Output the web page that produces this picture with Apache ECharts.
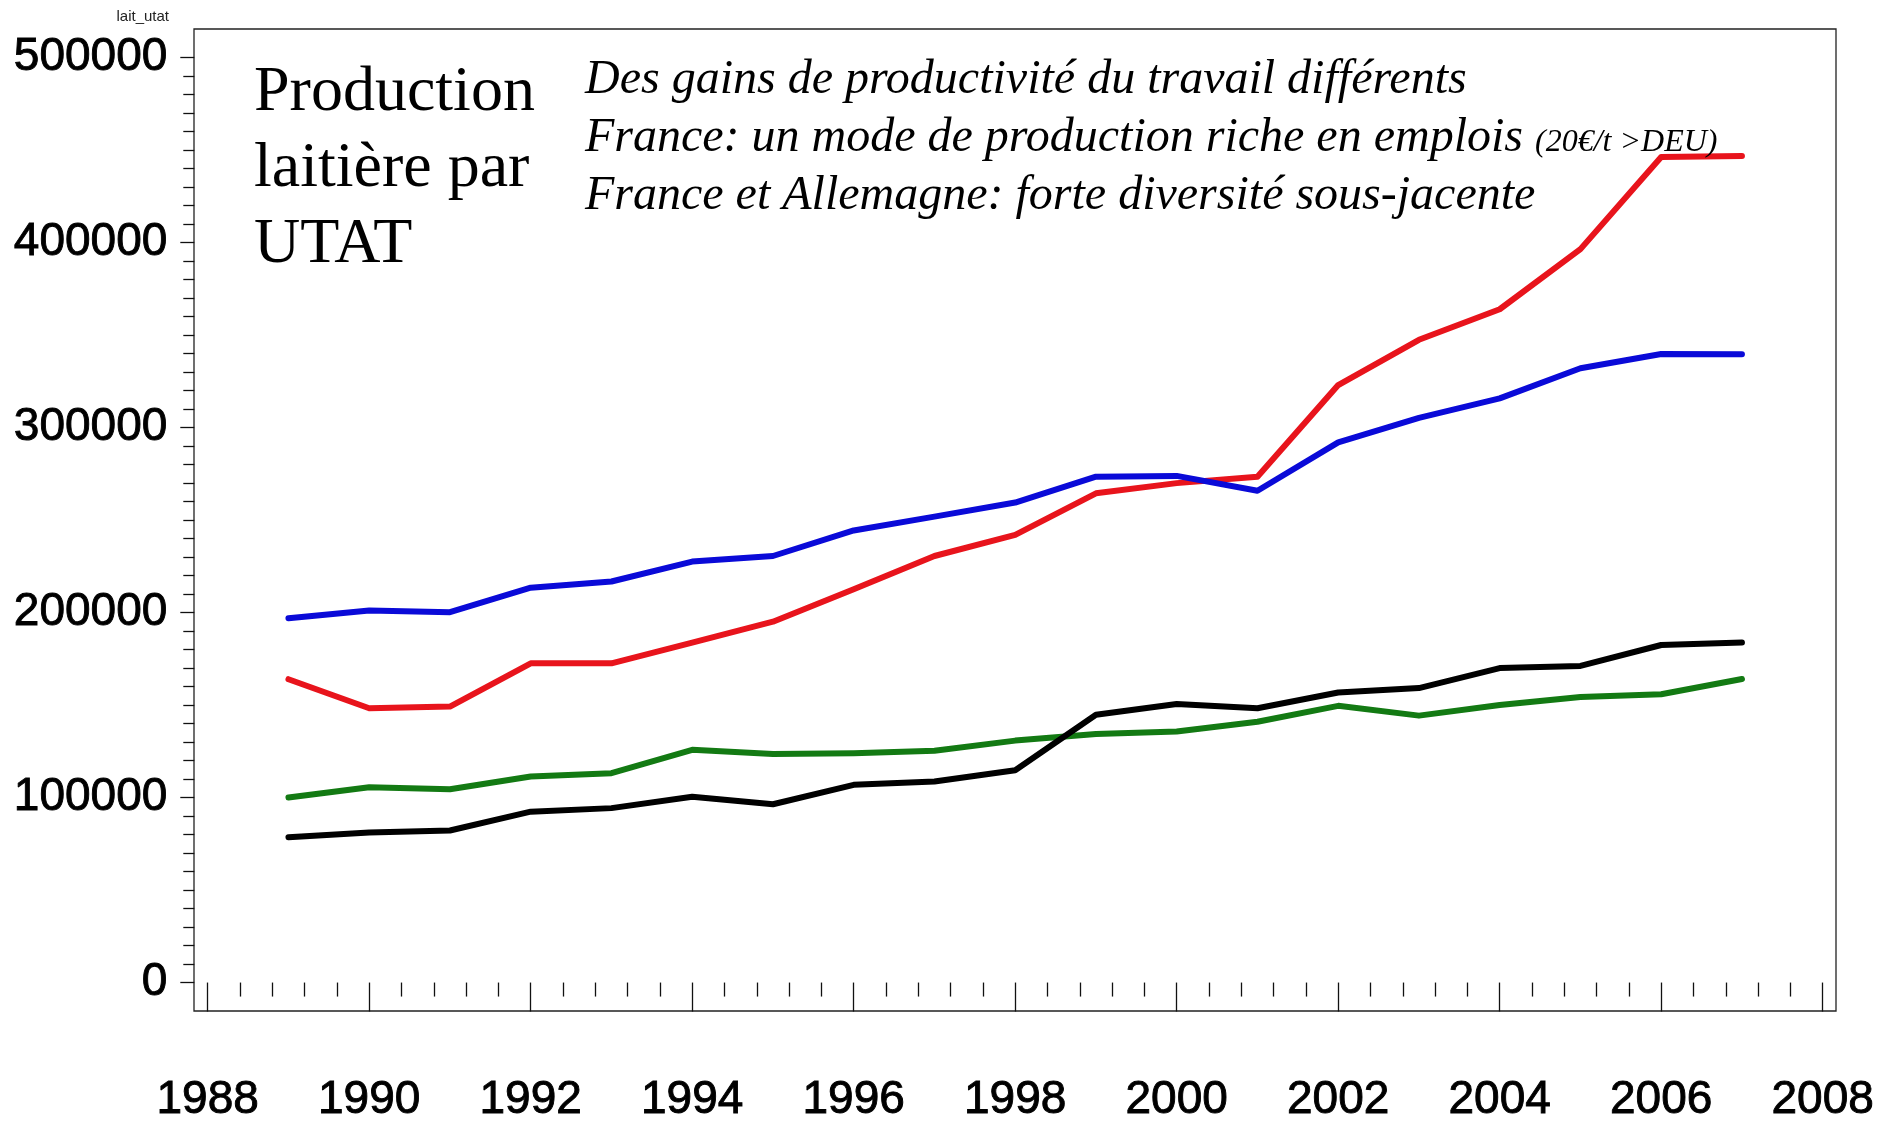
<!DOCTYPE html>
<html>
<head>
<meta charset="utf-8">
<script src="https://cdn.jsdelivr.net/npm/echarts@6/dist/echarts.min.js"></script>
<style>
html,body{margin:0;padding:0;background:#fff;}
#chart{width:1899px;height:1124px;}
</style>
</head>
<body>
<div id="chart"></div>
<script>
// ---- data ----
const years = [1989,1990,1991,1992,1993,1994,1995,1996,1997,1998,1999,2000,2001,2002,2003,2004,2005,2006,2007];
const serieRouge = [164000,148300,149200,172600,172600,183800,195100,212600,230600,242000,264500,270000,273500,323000,347500,364000,396500,446300,446900];
const serieBleue = [197000,201100,200200,213500,216800,227600,230600,244400,251900,259500,273500,273900,265900,292000,305300,315800,332100,339800,339700];
const serieVerte = [100000,105600,104500,111400,113200,125800,123600,124000,125300,130800,134400,135700,141000,149600,144300,150000,154400,155900,164100];
const serieNoire = [78600,81100,82200,92400,94300,100500,96400,106900,108700,114800,144800,150600,148300,156800,159200,170000,171200,182500,183800];
const xTicks = {min:1988, max:2008, interval:2};
const yTicks = {min:0, max:500000, interval:100000};
const axisName = 'lait_utat';
const titleLines = ['Production','laitière par','UTAT'];
const noteLines = ['Des gains de productivité du travail différents',
                   'France: un mode de production riche en emplois ',
                   'France et Allemagne: forte diversité sous-jacente'];
const noteSmall = '(20€/t >DEU)';

const pairs = arr => years.map((y,i)=>[y,arr[i]]);

const chart = echarts.init(document.getElementById('chart'), null, {renderer:'canvas'});
const lineSeries = (name, arr, color) => ({
  name, type:'line', xAxisIndex:1, yAxisIndex:1, data:pairs(arr),
  showSymbol:false, symbol:'none', smooth:false,
  lineStyle:{color, width:6, cap:'round', join:'round'}, z:3
});
const tickFont = '"Liberation Sans", Arial, sans-serif';

const option = {
  animation:false,
  backgroundColor:'#fff',
  grid:[
    {left:194, top:29, right:63, bottom:113, show:true, borderColor:'#222', borderWidth:1.3, backgroundColor:'transparent'},
    {left:207.7, top:57.7, right:76.3, bottom:141.3}
  ],
  xAxis:[
    {gridIndex:0, type:'value', show:false, min:0, max:1},
    {gridIndex:1, type:'value', min:xTicks.min, max:xTicks.max, interval:xTicks.interval,
     position:'bottom', offset:28,
     axisLine:{show:false},
     axisTick:{show:true, length:29, lineStyle:{color:'#111', width:1.3}},
     minorTick:{show:true, splitNumber:5, length:14, lineStyle:{color:'#111', width:1.3}},
     splitLine:{show:false}, minorSplitLine:{show:false},
     axisLabel:{show:true, margin:67, color:'#000', fontSize:46, fontFamily:tickFont,
                textBorderColor:'#000', textBorderWidth:0.9, formatter:v=>String(v)}
    }
  ],
  yAxis:[
    {gridIndex:0, type:'value', show:false, min:0, max:1},
    {gridIndex:1, type:'value', min:yTicks.min, max:yTicks.max, interval:yTicks.interval,
     position:'left', offset:13.4,
     axisLine:{show:false},
     axisTick:{show:true, length:14, lineStyle:{color:'#111', width:1.3}},
     minorTick:{show:true, splitNumber:10, length:11, lineStyle:{color:'#111', width:1.3}},
     splitLine:{show:false}, minorSplitLine:{show:false},
     axisLabel:{show:true, margin:27, color:'#000', fontSize:46, fontFamily:tickFont,
                textBorderColor:'#000', textBorderWidth:0.9, formatter:v=>String(v)}
    }
  ],
  graphic:[
    {type:'text', x:169, y:9, z:10,
     style:{text:axisName, font:'15px "Liberation Sans", Arial, sans-serif', fill:'#222', align:'right', verticalAlign:'top'}},
    {type:'text', x:254, y:55.5, z:10,
     style:{text:titleLines.join('\n'), font:'64px "Liberation Serif", "Times New Roman", serif', lineHeight:76, fill:'#000', verticalAlign:'top'}},
    {type:'text', x:585, y:51.5, z:10,
     style:{
       text:'{a|'+noteLines[0]+'}\n{a|'+noteLines[1]+'}{s|'+noteSmall+'}\n{a|'+noteLines[2]+'}',
       verticalAlign:'top',
       rich:{
         a:{fontFamily:'"Liberation Serif", "Times New Roman", serif', fontStyle:'italic', fontSize:48, lineHeight:58, fill:'#000', color:'#000'},
         s:{fontFamily:'"Liberation Serif", "Times New Roman", serif', fontStyle:'italic', fontSize:32, verticalAlign:'bottom', padding:[0,0,9,0], fill:'#000', color:'#000'}
       }
     }}
  ],
  series:[
    lineSeries('rouge', serieRouge, '#e8141c'),
    lineSeries('bleue', serieBleue, '#0a0ad8'),
    lineSeries('verte', serieVerte, '#137a13'),
    lineSeries('noire', serieNoire, '#000000')
  ]
};
chart.setOption(option);
</script>
</body>
</html>
